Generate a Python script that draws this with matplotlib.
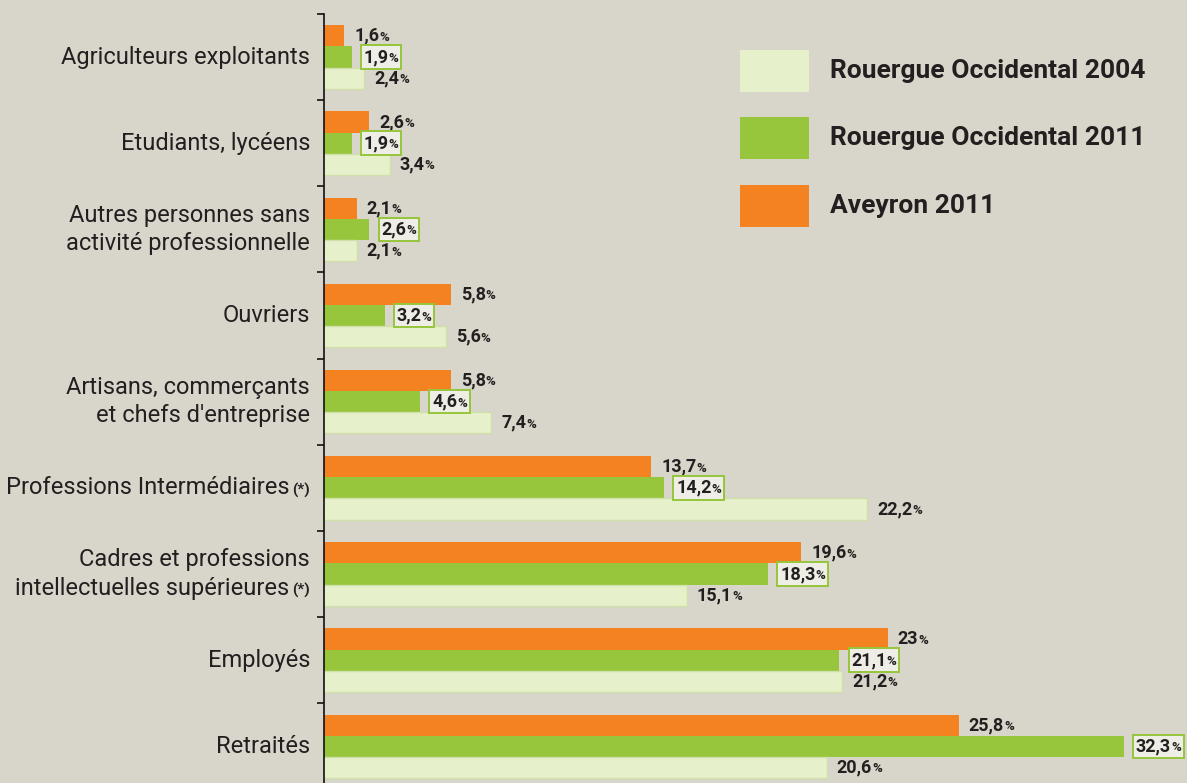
import matplotlib
matplotlib.use("Agg")
import matplotlib.pyplot as plt
from matplotlib.patches import Rectangle
from matplotlib.offsetbox import TextArea, HPacker, VPacker, AnnotationBbox

plt.rcParams["font.family"] = ["Roboto", "DejaVu Sans"]

categories = [
    "Agriculteurs exploitants",
    "Etudiants, lycéens",
    "Autres personnes sans\nactivité professionnelle",
    "Ouvriers",
    "Artisans, commerçants\net chefs d'entreprise",
    "Professions Intermédiaires (*)",
    "Cadres et professions\nintellectuelles supérieures (*)",
    "Employés",
    "Retraités",
]
aveyron_2011 = [1.6, 2.6, 2.1, 5.8, 5.8, 13.7, 19.6, 23, 25.8]
rouergue_2011 = [1.9, 1.9, 2.6, 3.2, 4.6, 14.2, 18.3, 21.1, 32.3]
rouergue_2004 = [2.4, 3.4, 2.1, 5.6, 7.4, 22.2, 15.1, 21.2, 20.6]
series_names = ["Rouergue Occidental 2004", "Rouergue Occidental 2011", "Aveyron 2011"]

bg = "#d8d5ca"
orange = "#f58220"
green = "#97c53c"
light = "#e6f0cb"
light_edge = "#cfe0a8"
txt = "#231f20"

W, H = 1187, 783
fig = plt.figure(figsize=(W / 100, H / 100), dpi=100, facecolor=bg)
ax = fig.add_axes([324 / W, 0, 1 - 324 / W, 769 / H], facecolor=bg)

h = 0.246
ys = list(range(len(categories)))
ax.barh([y - h for y in ys], aveyron_2011, height=h, color=orange)
ax.barh(ys, rouergue_2011, height=h, color=green)
ax.barh([y + h for y in ys], rouergue_2004, height=h, color=light, edgecolor=light_edge, linewidth=1)

ax.set_xlim(0.81, 0.81 + (W - 324) / 25.4)
ax.set_ylim(8.426, -0.493)

for s in ["top", "right", "bottom"]:
    ax.spines[s].set_visible(False)
ax.spines["left"].set_linewidth(1.2)
ax.spines["left"].set_color("#111111")
ax.set_xticks([])
ax.set_yticks([y + 0.5 for y in range(-1, len(categories) - 1)])
ax.set_yticklabels([])
ax.tick_params(axis="y", length=5, width=1.2, color="#111111", direction="out")


def fmt(v):
    return f"{v:g}".replace(".", ",")


def value_label(v, y, boxed):
    num = TextArea(fmt(v), textprops=dict(fontsize=13, fontweight="bold", color=txt))
    pct = TextArea("%", textprops=dict(fontsize=9.5, fontweight="bold", color=txt))
    pack = HPacker(children=[num, pct], align="baseline", pad=0, sep=0)
    off = 12 if boxed else 10
    ab = AnnotationBbox(pack, (v, y), xybox=(off * 0.72, 0), boxcoords="offset points",
                        box_alignment=(0, 0.5), frameon=boxed, pad=0.1,
                        bboxprops=dict(boxstyle="square,pad=0.2", fc="#efeee6", ec=green, lw=1.4),
                        annotation_clip=False)
    ax.add_artist(ab)


for i in ys:
    value_label(aveyron_2011[i], i - h, False)
    value_label(rouergue_2011[i], i, True)
    value_label(rouergue_2004[i], i + h, False)

# category labels
for i, label in enumerate(categories):
    rows = []
    for line in label.split("\n"):
        if line.endswith("(*)"):
            main = TextArea(line[:-3].rstrip(), textprops=dict(fontsize=17, color=txt))
            star = TextArea("(*)", textprops=dict(fontsize=11, fontweight="bold", color=txt))
            rows.append(HPacker(children=[main, star], align="baseline", pad=0, sep=2))
        else:
            rows.append(TextArea(line, textprops=dict(fontsize=17, color=txt)))
    box = VPacker(children=rows, align="right", pad=0, sep=4)
    ab = AnnotationBbox(box, (0, i), xycoords=ax.get_yaxis_transform(),
                        xybox=(-14 * 0.72, 0), boxcoords="offset points",
                        box_alignment=(1, 0.5), frameon=False, annotation_clip=False)
    ax.add_artist(ab)

# legend
legend_colors = [light, green, orange]
legend_tops = [50, 117, 185]
for name, col, top in zip(series_names, legend_colors, legend_tops):
    fig.add_artist(Rectangle((740 / W, 1 - (top + 42) / H), 69 / W, 42 / H,
                             transform=fig.transFigure, color=col, lw=0))
    fig.text(830 / W, 1 - (top + 21) / H, name, fontsize=19, fontweight="bold",
             color=txt, va="center", ha="left")

fig.savefig("out.png", dpi=100, facecolor=bg)
